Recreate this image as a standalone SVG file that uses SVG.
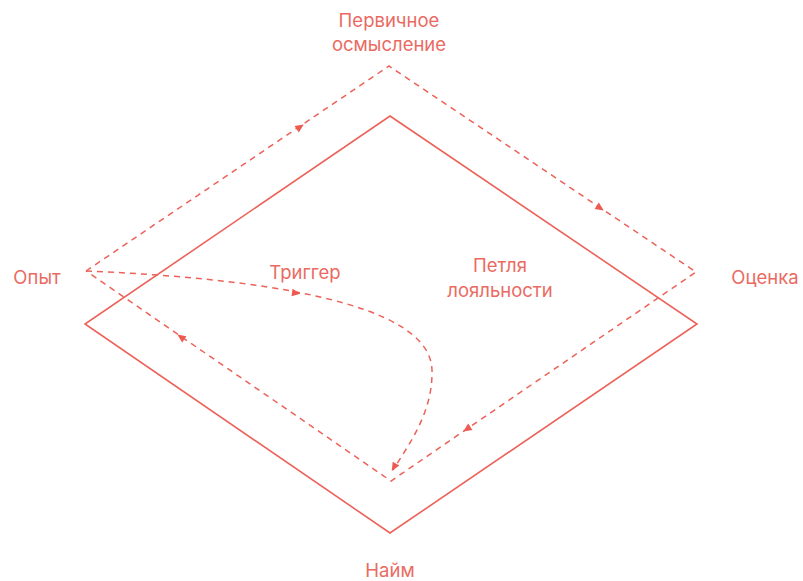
<svg xmlns="http://www.w3.org/2000/svg" width="803" height="581" viewBox="0 0 803 581">
<style>
.solid{fill:none;stroke:#ec6259;stroke-width:1.6;stroke-linejoin:miter}
.dash{fill:none;stroke:#ec6259;stroke-width:1.5;stroke-dasharray:6 5}
.lbl{font-family:Inter,Roboto,"Liberation Sans",sans-serif;font-size:18.5px;fill:#ea6a62;text-anchor:middle}
.ah{fill:#ec5a50}
</style>
<defs>
<path id="ah" d="M4.5,0 L-4,-3.8 L-4,3.8 Z"/>
</defs>
<rect width="803" height="581" fill="#ffffff"/>
<g id="loyalty-loop">
<polygon class="solid" points="390,116 697,324 390,533 85,324"/>
<text class="lbl" x="500" y="272">Петля</text>
<text class="lbl" x="500" y="297">лояльности</text>
</g>
<g id="connectors">
<polyline class="dash" points="86,271 389,66 696,272 391,481 86,271"/>
<path class="dash" d="M86,271 C250,278 430,300 432,370 C433,410 412,440 393,470"/>
<use href="#ah" class="ah" transform="translate(300,127) rotate(-34.1)"/>
<use href="#ah" class="ah" transform="translate(600,208) rotate(33.9)"/>
<use href="#ah" class="ah" transform="translate(467,429) rotate(145.6)"/>
<use href="#ah" class="ah" transform="translate(181,337) rotate(214.5)"/>
<use href="#ah" class="ah" transform="translate(296,293) rotate(8)"/>
<use href="#ah" class="ah" transform="translate(394,467) rotate(120)"/>
</g>
<g id="node-first">
<text class="lbl" x="389" y="27">Первичное</text>
<text class="lbl" x="389" y="51">осмысление</text>
</g>
<g id="node-experience"><text class="lbl" x="37" y="284">Опыт</text></g>
<g id="node-evaluation"><text class="lbl" x="765" y="284">Оценка</text></g>
<g id="node-trigger"><text class="lbl" x="305" y="279">Триггер</text></g>
<g id="node-hire"><text class="lbl" x="390" y="577">Найм</text></g>
</svg>
